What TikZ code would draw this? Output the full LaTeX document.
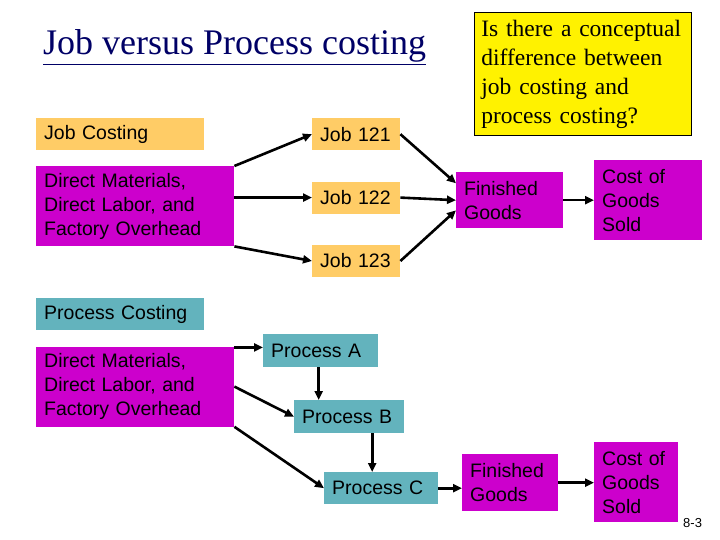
\documentclass[tikz,border=0pt]{standalone}
\usepackage{fontspec}
\setmainfont{Liberation Serif}
\newfontfamily\jcsans{Liberation Sans}
\usepackage{xcolor}
\definecolor{jcjob}{HTML}{FFCC66}
\definecolor{jcmat}{HTML}{CC00CC}
\definecolor{jcproc}{HTML}{63B3BD}
\definecolor{jcink}{HTML}{330033}
\definecolor{jctitle}{HTML}{000066}
\usepackage{tikz}
\usetikzlibrary{arrows.meta,positioning,calc}
\tikzset{
  jcbox/.style={anchor=north west,inner xsep=8pt,inner ysep=0pt,align=left,font=\jcsans\fontsize{19.5}{24}\selectfont},
  jcjobbox/.style={jcbox,fill=jcjob},
  jcmatbox/.style={jcbox,fill=jcmat,text=black},
  jcprocbox/.style={jcbox,fill=jcproc},
  jcflow/.style={-{Triangle[length=9pt,width=8pt]},line width=2.6pt},
}

\begin{document}
\begin{tikzpicture}[x=1pt,y=-1pt]
\useasboundingbox (0,0) rectangle (720,540);
 % title and question
\node[anchor=base west,inner sep=0pt,font=\fontsize{36}{40}\selectfont,text=jctitle] (title) at (43,55) {\underline{Job versus Process costing}};
\node[anchor=north west,draw=black,line width=0.8pt,fill=yellow,text width=203pt,inner xsep=7pt,inner ysep=0pt,minimum height=123pt,align=left,font={\fontsize{23.5}{29}\selectfont\hyphenpenalty10000}] (quest) at (474,12) {Is there a conceptual\\ difference between\\ job costing and\\ process costing?};
 % job costing
\node[jcjobbox,text width=152pt,minimum height=32pt] (jobhead) at (36,118) {Job Costing};
\node[jcmatbox,text width=182pt,minimum height=80pt] (dm1) at (36,166) {Direct Materials,\\ Direct Labor, and\\ Factory Overhead};
\node[jcjobbox,text width=72pt,minimum height=32pt] (job121) at (312,118) {Job 121};
\node[jcjobbox,text width=72pt,minimum height=32pt,below=31pt of job121] (job122) {Job 122};
\node[jcjobbox,text width=72pt,minimum height=32pt,below=31pt of job122] (job123) {Job 123};
\node[jcmatbox,text width=91pt,minimum height=56pt] (fg1) at (456,172) {Finished\\ Goods};
\node[jcmatbox,text width=92pt,minimum height=80pt] (cogs1) at (594,160) {Cost of\\ Goods\\ Sold};
\draw[jcflow] (dm1.north east) -- (job121.west);
\draw[jcflow] (dm1.east |- job122) -- (job122.west);
\draw[jcflow] (dm1.south east) -- (job123.west);
\draw[jcflow] (job121.east) -- ($(fg1.north west)!0.2!(fg1.south west)$);
\draw[jcflow] (job122.east) -- (fg1.west);
\draw[jcflow] (job123.east) -- ($(fg1.north west)!0.68!(fg1.south west)$);
\draw[jcflow] (fg1.east) -- (cogs1.west);
 % process costing
\node[jcprocbox,text width=152pt,minimum height=32pt] (prochead) at (36,298) {Process Costing};
\node[jcmatbox,text width=182pt,minimum height=80pt,below=16pt of prochead.south west,anchor=north west] (dm2) {Direct Materials,\\ Direct Labor, and\\ Factory Overhead};
\node[jcprocbox,text width=99pt,minimum height=33pt] (procA) at (263,334) {Process A};
\node[jcprocbox,text width=94pt,minimum height=33pt] (procB) at (294,400) {Process B};
\node[jcprocbox,text width=98pt,minimum height=32pt] (procC) at (324,472) {Process C};
\node[jcmatbox,text width=80pt,minimum height=57pt] (fg2) at (462,454) {Finished\\ Goods};
\node[jcmatbox,text width=68pt,minimum height=80pt] (cogs2) at (594,442) {Cost of\\ Goods\\ Sold};
\draw[jcflow] ([yshift=-1pt]dm2.north east) -- ([yshift=-1pt]dm2.north east -| procA.west);
\draw[jcflow] (dm2.east) -- (procB.west);
\draw[jcflow] (dm2.south east) -- (procC.west);
\draw[jcflow] ([xshift=-2pt]procA.south) -- ([xshift=-2pt]procA.south |- procB.north);
\draw[jcflow] ([xshift=-9pt]procC.north |- procB.south) -- ([xshift=-9pt]procC.north);
\draw[jcflow] (procC.east) -- (procC.east -| fg2.west);
\draw[jcflow] (fg2.east) -- (fg2.east -| cogs2.west);
 % page number
\node[anchor=base west,inner sep=0pt,font=\jcsans\fontsize{13}{15}\selectfont] (pgno) at (683,527) {8-3};
\end{tikzpicture}
\end{document}
